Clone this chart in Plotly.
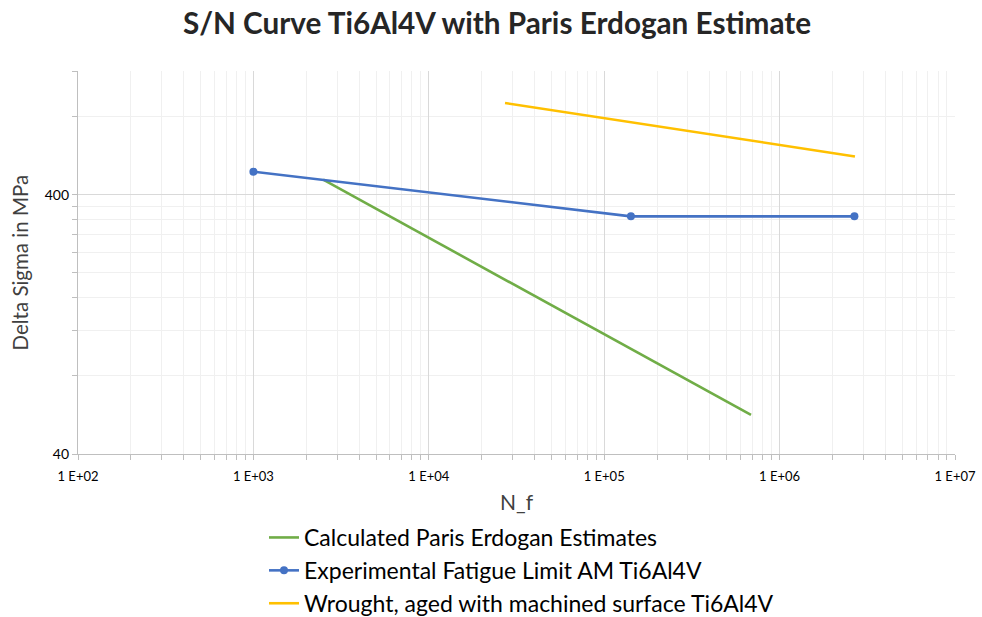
import numpy as np
import plotly.graph_objects as go

# Data
paris_n = [2500, 687000]
paris_s = [457, 56.6]

exp_n = [1000, 142000, 2670000]
exp_s = [491, 330, 330]

wrought_n = [27200, 2690000]
wrought_s = [903, 562]

x_tickvals = [1e2, 1e3, 1e4, 1e5, 1e6, 1e7]
x_ticktext = ["1 E+02", "1 E+03", "1 E+04", "1 E+05", "1 E+06", "1 E+07"]
y_tickvals = [40, 400]
y_ticktext = ["40", "400"]

x_minor = [m * 10 ** e for e in range(2, 7) for m in range(2, 10)]
y_minor = [40 * k for k in range(2, 10)] + [400 * k for k in range(2, 4)]

FONT = "Lato"

fig = go.Figure()
fig.add_trace(go.Scatter(x=paris_n, y=paris_s, mode="lines",
                         name="Calculated Paris Erdogan Estimates",
                         line=dict(color="#70AD47", width=2.6)))
fig.add_trace(go.Scatter(x=exp_n, y=exp_s, mode="lines+markers",
                         name="Experimental Fatigue Limit AM Ti6Al4V",
                         line=dict(color="#4472C4", width=2.6),
                         marker=dict(size=8, color="#4472C4")))
fig.add_trace(go.Scatter(x=wrought_n, y=wrought_s, mode="lines",
                         name="Wrought, aged with machined surface Ti6Al4V",
                         line=dict(color="#FFC000", width=2.6)))

fig.update_layout(
    width=982, height=617,
    paper_bgcolor="white", plot_bgcolor="white",
    margin=dict(l=78, r=27, t=71, b=163, autoexpand=False),
    font=dict(family=FONT, color="#404040"),
    title=dict(text="<b>S/N Curve Ti6Al4V with Paris Erdogan Estimate</b>",
               x=497 / 982, xanchor="center", xref="container",
               y=1 - 24 / 617, yanchor="middle",
               font=dict(size=29.7, color="#262626", family=FONT)),
    showlegend=True,
    legend=dict(orientation="v", x=264 / 982, xanchor="left", xref="container",
                y=1 - 516 / 617, yanchor="top", yref="container",
                font=dict(size=23, color="#000000", family=FONT),
                itemwidth=30, tracegroupgap=0, bgcolor="rgba(0,0,0,0)"),
    annotations=[dict(text="Delta Sigma in MPa", textangle=-90,
                      xref="paper", x=-59 / 877, xanchor="center",
                      yref="paper", y=0.5, yanchor="middle", showarrow=False,
                      font=dict(size=20.5, color="#404040", family=FONT))],
)

fig.update_xaxes(
    type="log", range=[2, 7], automargin=False,
    tickmode="array", tickvals=x_tickvals, ticktext=x_ticktext,
    tickfont=dict(size=13, color="#000000"), ticklabelstandoff=5,
    showline=True, linecolor="#BFBFBF", linewidth=1.3,
    ticks="outside", ticklen=5, tickcolor="#BFBFBF",
    showgrid=True, gridcolor="#D9D9D9", gridwidth=1,
    zeroline=False,
    minor=dict(tickmode="array", tickvals=x_minor, showgrid=True,
               gridcolor="#F0F0F0", gridwidth=1, ticks="outside", ticklen=5,
               tickcolor="#BFBFBF"),
    title=dict(text="N_f", font=dict(size=21, color="#404040"), standoff=12),
)
fig.update_yaxes(
    type="log", range=[np.log10(40), np.log10(1200)], automargin=False,
    tickmode="array", tickvals=y_tickvals, ticktext=y_ticktext,
    tickfont=dict(size=14, color="#000000"),
    showline=True, linecolor="#BFBFBF", linewidth=1.3,
    ticks="outside", ticklen=5, tickcolor="#BFBFBF",
    showgrid=True, gridcolor="#D9D9D9", gridwidth=1,
    zeroline=False,
    minor=dict(tickmode="array", tickvals=y_minor, showgrid=True,
               gridcolor="#F0F0F0", gridwidth=1, ticks="outside", ticklen=5,
               tickcolor="#BFBFBF"),
)

fig.write_html("out.html")
